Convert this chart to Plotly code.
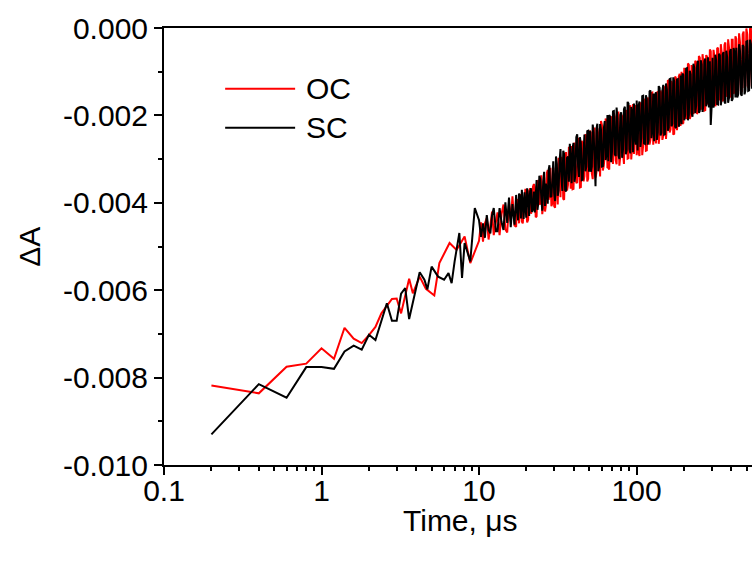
import plotly.graph_objects as go

# ---------------- data ----------------
# early (sparse) part, time in microseconds, ΔA
oc_t_early = [0.2, 0.4, 0.6, 0.8, 1.0, 1.2, 1.4, 1.6, 1.8, 2.0, 2.2, 2.4, 2.8, 3.0, 3.2,
              3.6, 3.8, 4.2, 4.6, 5.2, 5.6, 6.5, 7.2, 8.1, 8.8]
oc_early = [-0.00818, -0.00836, -0.00775, -0.00768, -0.00733, -0.00757, -0.00686, -0.00711,
            -0.00721, -0.00703, -0.00684, -0.00653, -0.00620, -0.00619, -0.00653, -0.00574,
            -0.00607, -0.00569, -0.00597, -0.00612, -0.00538, -0.00492, -0.00508, -0.00477,
            -0.00538]

sc_t_early = [0.2, 0.4, 0.6, 0.8, 1.0, 1.2, 1.4, 1.6, 1.8, 2.0, 2.2, 2.6, 2.8, 3.0, 3.2,
              3.4, 3.6, 3.9, 4.2, 4.5, 4.7, 5.0, 5.5, 6.0, 6.4, 6.7, 7.0, 7.5, 7.8, 8.1,
              8.8, 9.4]
sc_early = [-0.00930, -0.00815, -0.00846, -0.00776, -0.00776, -0.00780, -0.00740, -0.00727,
            -0.00736, -0.00702, -0.00714, -0.00630, -0.00670, -0.00670, -0.00608, -0.00595,
            -0.00666, -0.00607, -0.00559, -0.00576, -0.00598, -0.00546, -0.00569, -0.00576,
            -0.00561, -0.00584, -0.00534, -0.00469, -0.00572, -0.00492, -0.00534, -0.00412]

# dense (noisy) part, time grid A (µs)
t_dense = [
    10.0, 10.3, 10.6, 10.9, 11.2, 11.5, 11.8, 12.1, 12.4, 12.8,
    13.1, 13.5, 13.9, 14.3, 14.7, 15.1, 15.5, 15.9, 16.3, 16.8,
    17.2, 17.7, 18.2, 18.7, 19.2, 19.7, 20.2, 20.8, 21.4, 22.0,
    22.6, 23.2, 23.8, 24.5, 25.2, 25.9, 26.6, 27.3, 28.0, 28.8,
    29.6, 30.4, 31.2, 32.0, 32.9, 33.8, 34.7, 35.7, 36.7, 37.7,
    38.7, 39.8, 40.9, 42.0, 43.1, 44.3, 45.5, 46.7, 48.0, 49.3,
    50.6, 52.0, 53.4, 54.9, 56.4, 57.9, 59.5, 61.1, 62.8, 64.5,
    66.2, 68.0, 69.9, 71.8, 73.7, 75.7, 77.8, 79.9, 82.1, 84.3,
    86.6, 88.9, 91.3, 93.8, 96.3, 98.9, 101.6, 104.4, 107.2, 110.1,
    113.1, 116.2, 119.3, 122.6, 125.9, 129.3, 132.8, 136.4, 140.1, 143.9,
    147.8, 151.8, 155.9, 160.1, 164.4, 168.8, 173.4, 178.1, 182.9, 187.9,
    193.0, 198.2, 203.6, 209.1, 214.8, 220.6, 226.6, 232.7, 239.0, 245.5,
    252.1, 258.9, 265.9, 273.1, 280.5, 288.1, 295.9, 303.9, 312.1, 320.6,
    329.3, 338.2, 347.3, 356.7, 366.4, 376.3, 386.4, 396.9, 407.6, 418.7,
    430.0, 441.6, 453.6, 465.8, 478.4, 491.4, 504.7, 518.3, 532.4, 546.8,
    561.6, 577.0, 593.0, 609.0, 625.0, 642.0, 660.0, 678.0, 696.0, 715.0,
]

# ΔA in units of 10^-3 on grid A
oc_dense_milli = [
    -4.87, -4.45, -4.89, -4.47, -4.35, -4.84, -4.57, -4.20, -4.74, -4.37,
    -4.22, -4.74, -4.26, -4.04, -4.61, -4.68, -4.00, -4.43, -3.85, -4.52,
    -4.55, -3.93, -3.80, -4.43, -4.15, -3.68, -4.45, -3.73, -4.25, -3.63,
    -3.65, -4.31, -3.48, -4.04, -4.26, -3.42, -4.04, -3.25, -3.82, -4.08,
    -3.20, -4.11, -3.66, -2.97, -3.87, -3.03, -3.93, -2.84, -3.59, -2.85,
    -2.70, -3.68, -2.86, -3.53, -2.51, -3.64, -2.67, -3.39, -2.47, -3.45,
    -2.35, -3.32, -2.49, -3.42, -2.29, -3.11, -2.13, -3.26, -2.93, -2.15,
    -3.20, -2.08, -2.92, -1.95, -3.03, -2.17, -3.15, -1.98, -2.87, -1.90,
    -1.90, -2.98, -1.77, -2.70, -2.88, -1.77, -2.05, -2.93, -1.72, -2.70,
    -1.62, -2.80, -1.73, -2.55, -1.48, -2.36, -2.64, -1.46, -2.44, -1.52,
    -2.47, -1.35, -2.22, -1.20, -2.32, -1.30, -2.42, -1.15, -2.12, -1.05,
    -1.00, -2.17, -1.09, -2.02, -0.84, -2.01, -0.93, -1.86, -0.78, -1.90,
    -0.68, -1.81, -0.80, -1.88, -0.66, -1.65, -0.53, -1.76, -0.65, -1.73,
    -0.45, -1.63, -0.57, -1.65, -0.33, -1.52, -0.45, -1.53, -0.27, -1.45,
    -0.25, -1.43, -0.32, -1.45, -0.08, -1.32, -0.15, -1.33, -0.01, -1.30,
    -0.05, -1.30, -0.12, -1.25, 0.00, -1.22, -0.08, -1.20, -0.02, -1.18,
]

sc_dense_milli = [
    -4.40, -4.78, -4.47, -4.80, -4.28, -4.62, -4.70, -4.28, -4.12, -4.65,
    -4.65, -4.12, -4.44, -4.62, -3.99, -4.46, -3.88, -4.56, -4.03, -4.50,
    -3.82, -4.40, -3.87, -3.70, -4.37, -4.10, -3.67, -4.30, -3.67, -4.15,
    -4.22, -3.48, -4.00, -3.46, -4.18, -3.29, -3.56, -4.02, -3.14, -3.85,
    -3.05, -3.96, -3.11, -3.72, -2.77, -3.73, -2.88, -3.74, -2.94, -2.65,
    -3.55, -2.63, -3.36, -2.43, -3.41, -2.64, -3.47, -2.44, -3.17, -2.35,
    -2.35, -3.17, -2.39, -3.62, -2.19, -3.16, -2.33, -3.16, -2.13, -2.90,
    -3.05, -2.03, -2.82, -1.90, -2.93, -2.07, -3.00, -1.93, -2.77, -1.80,
    -2.80, -1.73, -2.87, -1.90, -1.73, -2.67, -2.80, -1.68, -2.52, -1.55,
    -2.65, -1.63, -2.56, -1.43, -2.36, -2.59, -1.47, -2.39, -1.37, -2.40,
    -1.30, -2.43, -1.41, -2.28, -1.16, -2.19, -1.22, -2.29, -1.17, -2.10,
    -2.20, -1.07, -1.99, -0.92, -1.99, -1.06, -2.03, -0.91, -1.78, -0.75,
    -1.90, -0.83, -1.77, -0.70, -1.68, -1.82, -2.22, -0.68, -1.72, -0.75,
    -1.75, -0.63, -1.62, -0.55, -1.73, -0.67, -1.60, -0.48, -1.62, -0.55,
    -0.45, -1.53, -0.52, -1.55, -0.43, -1.42, -0.30, -1.43, -0.37, -1.35,
    -0.30, -1.38, -0.28, -1.35, -0.32, -1.30, -0.25, -1.28, -0.22, -1.25,
]

# in-between samples, time grid B (µs)
t_mid = [
    17.45, 17.95, 18.45, 18.95, 19.45, 19.95, 20.5, 21.1, 21.7, 22.3,
    22.9, 23.5, 24.15, 24.85, 25.55, 26.25, 26.95, 27.65, 28.4, 29.2,
    30.0, 30.8, 31.6, 32.45, 33.35, 34.25, 35.2, 36.2, 37.2, 38.2,
    39.25, 40.35, 41.45, 42.55, 43.7, 44.9, 46.1, 47.35, 48.65, 49.95,
    51.3, 52.7, 54.15, 55.65, 57.15, 58.7, 60.3, 61.95, 63.65, 65.35,
    67.1, 68.95, 70.85, 72.75, 74.7, 76.75, 78.85, 81.0, 83.2, 85.45,
    87.75, 90.1, 92.55, 95.05, 97.6, 100.25, 103.0, 105.8, 108.65, 111.6,
    114.65, 117.75, 120.95, 124.25, 127.6, 131.05, 134.6, 138.25, 142.0, 145.85,
    149.8, 153.85, 158.0, 162.25, 166.6, 171.1, 175.75, 180.5, 185.4, 190.45,
    195.6, 200.9, 206.35, 211.95, 217.7, 223.6, 229.65, 235.85, 242.25, 248.8,
    255.5, 262.4, 269.5, 276.8, 284.3, 292.0, 299.9, 308.0, 316.35, 324.95,
    333.75, 342.75, 352.0, 361.55, 371.35, 381.35, 391.65, 402.25, 413.15, 424.35,
    435.8, 447.6, 459.7, 472.1, 484.9, 498.05, 511.5, 525.35, 539.6, 554.2,
    569.3, 585.0, 601.0, 617.0, 633.5, 651.0, 669.0, 687.0, 705.5, 725.0,
]

oc_mid_milli = [
    -3.94, -4.47, -3.99, -4.47, -3.74, -4.17, -4.39, -3.67, -4.14, -3.57,
    -4.33, -3.54, -4.01, -3.37, -4.09, -4.20, -3.32, -3.93, -3.20, -4.01,
    -4.08, -3.14, -4.04, -3.20, -2.95, -3.91, -2.96, -3.72, -2.72, -3.68,
    -3.69, -2.62, -3.55, -2.67, -3.65, -2.58, -3.51, -2.43, -3.51, -2.59,
    -2.39, -3.46, -2.28, -3.31, -2.43, -3.40, -2.22, -3.15, -2.07, -3.19,
    -3.24, -2.02, -3.11, -2.04, -3.12, -1.91, -2.94, -2.02, -3.11, -1.89,
    -2.99, -1.82, -3.01, -1.74, -1.82, -2.91, -2.84, -1.72, -2.91, -1.74,
    -2.81, -1.59, -2.67, -1.49, -2.67, -1.55, -1.48, -2.65, -1.43, -2.56,
    -1.36, -2.54, -1.21, -2.39, -1.21, -2.44, -1.11, -2.34, -1.11, -2.24,
    -2.19, -0.91, -2.08, -0.81, -2.08, -0.85, -1.97, -0.75, -1.97, -0.64,
    -1.87, -0.60, -1.89, -0.62, -1.75, -0.49, -1.77, -0.50, -1.79, -0.47,
    -1.64, -0.37, -1.66, -0.39, -1.57, -0.26, -1.59, -0.27, -1.51, -0.19,
    -1.44, -0.12, -1.46, -0.14, -1.37, -0.01, -1.34, -0.02, -1.31, -0.04,
    -1.28, -0.05, -1.25, -0.03, -1.22, -0.02, -1.20, -0.01, -1.18, 0.00,
]

sc_mid_milli = [
    -4.21, -3.79, -4.36, -4.04, -3.76, -4.34, -3.86, -3.74, -4.21, -3.74,
    -3.75, -4.16, -3.38, -3.89, -3.51, -4.07, -3.74, -3.25, -3.87, -3.48,
    -3.78, -2.94, -3.84, -3.05, -3.40, -2.81, -3.71, -2.97, -3.52, -2.98,
    -2.74, -3.52, -2.50, -3.17, -2.50, -3.48, -2.81, -3.28, -2.36, -3.29,
    -3.29, -2.21, -3.03, -2.31, -3.28, -2.20, -3.17, -2.30, -3.02, -1.99,
    -1.99, -3.07, -1.91, -2.89, -1.82, -2.91, -1.99, -2.97, -1.86, -2.89,
    -1.69, -2.77, -1.81, -2.84, -2.52, -1.66, -1.79, -2.72, -1.56, -2.64,
    -1.54, -2.67, -1.45, -2.52, -1.50, -1.53, -2.56, -1.33, -2.46, -1.44,
    -2.44, -1.27, -2.35, -1.17, -2.25, -1.13, -2.26, -1.18, -2.26, -1.09,
    -1.04, -2.11, -0.93, -2.11, -0.98, -1.95, -0.82, -1.95, -0.87, -1.94,
    -0.74, -1.92, -0.76, -1.79, -0.67, -0.76, -1.79, -1.82, -0.61, -1.74,
    -0.59, -1.77, -0.61, -1.69, -0.52, -1.71, -0.54, -1.67, -0.46, -1.59,
    -1.59, -0.37, -1.51, -0.39, -1.52, -0.31, -1.44, -0.27, -1.36, -0.29,
    -1.40, -0.30, -1.35, -0.28, -1.32, -0.26, -1.30, -0.24, -1.28, -0.22,
]

series_names = ["OC", "SC"]
series_colors = ["#ff0000", "#000000"]

x_tickvals = [0.1, 1, 10, 100, 1000]
x_ticktext = ["0.1", "1", "10", "100", "1000"]
y_tickvals = [0.0, -0.002, -0.004, -0.006, -0.008, -0.010]
y_ticktext = ["0.000", "-0.002", "-0.004", "-0.006", "-0.008", "-0.010"]

FONT = "Arial, Liberation Sans, sans-serif"
FS = 30
LW = 2


def build(t_early, v_early, ta, va_milli, tb, vb_milli):
    """Merge the sampled lists into one time-ordered series (ΔA in absolute units)."""
    dense = sorted(zip(ta + tb, va_milli + vb_milli))
    xs = t_early + [p[0] for p in dense]
    ys = v_early + [p[1] / 1000 for p in dense]
    return xs, ys


oc_x, oc_y = build(oc_t_early, oc_early, t_dense, oc_dense_milli, t_mid, oc_mid_milli)
sc_x, sc_y = build(sc_t_early, sc_early, t_dense, sc_dense_milli, t_mid, sc_mid_milli)

fig = go.Figure()
fig.add_trace(go.Scatter(x=oc_x, y=oc_y, mode="lines", name=series_names[0],
                         line=dict(color=series_colors[0], width=LW), showlegend=False))
fig.add_trace(go.Scatter(x=sc_x, y=sc_y, mode="lines", name=series_names[1],
                         line=dict(color=series_colors[1], width=LW), showlegend=False))

# legend drawn with long line samples like the original
leg_y = [0.861, 0.772]
for i in range(2):
    fig.add_shape(type="line", xref="paper", yref="paper", x0=0.104, x1=0.223,
                  y0=leg_y[i], y1=leg_y[i], line=dict(color=series_colors[i], width=LW))
    fig.add_annotation(xref="paper", yref="paper", x=0.238, y=leg_y[i], text=series_names[i],
                       showarrow=False, xanchor="left", yanchor="middle",
                       font=dict(family=FONT, size=FS, color="black"))

# axis titles
fig.add_annotation(xref="paper", yref="paper", x=0.505, y=-0.128, text="Time, μs",
                   showarrow=False, xanchor="center", yanchor="middle",
                   font=dict(family=FONT, size=FS, color="black"))
fig.add_annotation(xref="paper", yref="paper", x=-0.228, y=0.499, text="ΔA", textangle=-90,
                   showarrow=False, xanchor="center", yanchor="middle",
                   font=dict(family=FONT, size=FS, color="black"))

fig.update_xaxes(type="log", range=[-1, 2.733], showline=True, linecolor="black", linewidth=2,
                 mirror=True, showgrid=False, zeroline=False,
                 tickvals=x_tickvals, ticktext=x_ticktext, ticks="outside", ticklen=8,
                 tickwidth=1.5, tickcolor="black", ticklabelstandoff=-10,
                 minor=dict(ticks="outside", ticklen=4, tickwidth=1.5, tickcolor="black",
                            dtick="D1", showgrid=False),
                 tickfont=dict(family=FONT, size=FS, color="black"))
fig.update_yaxes(range=[-0.010, 0.0], showline=True, linecolor="black", linewidth=2,
                 showgrid=False, zeroline=False,
                 tickvals=y_tickvals, ticktext=y_ticktext, ticks="outside", ticklen=8,
                 tickwidth=1.5, tickcolor="black",
                 minor=dict(ticks="outside", ticklen=4, tickwidth=1.5, tickcolor="black",
                            dtick=0.001, showgrid=False),
                 tickfont=dict(family=FONT, size=FS, color="black"))

fig.update_layout(width=752, height=563, margin=dict(l=164, r=0, t=28, b=98),
                  plot_bgcolor="white", paper_bgcolor="white", showlegend=False)

# remove the default page margin so the figure fills the window exactly
fig.write_html("out.html",
               config={"displayModeBar": False},
               post_script="document.body.style.margin='0';"
                           "document.body.style.overflow='hidden';")
